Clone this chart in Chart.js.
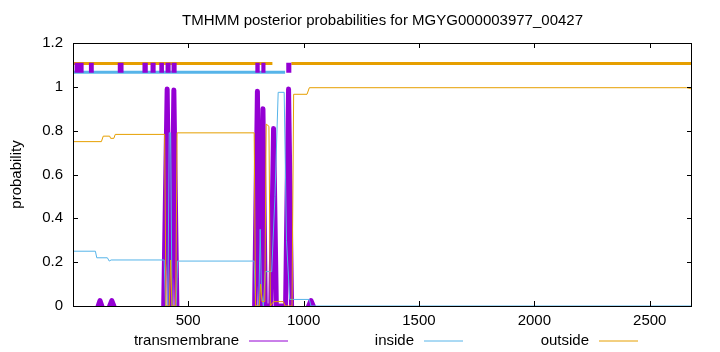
<!DOCTYPE html>
<html>
<head>
<meta charset="utf-8">
<script src="https://cdn.jsdelivr.net/npm/chart.js@4"></script>
<style>
  body { margin: 0; background: #fff; }
</style>
</head>
<body>
<canvas id="tmhmm" width="720" height="352"></canvas>
<script>
// ===============================
// Data
// ===============================
const chartTitle = "TMHMM posterior probabilities for MGYG000003977_00427";
const seqStart = 1;
const seqEnd = 2683;
const xTickValues = [500, 1000, 1500, 2000, 2500];
const yTickValues = [0, 0.2, 0.4, 0.6, 0.8, 1, 1.2];
const seriesNames = ["transmembrane", "inside", "outside"];

// transmembrane posterior (null = gap in the line)
const tmPos  = [110, 118, 126, 126, 160, 169, 178, 178, 394, 409, 421, 426, 438, 451, 451, 788, 800, 812, 815, 824, 834, 858, 870, 882, 922, 935, 948, 948, 1022, 1032, 1042];
const tmProb = [0, 0.025, 0, null, 0, 0.025, 0, null, 0, 0.99, 0, 0, 0.985, 0, null, 0, 0.98, 0, 0, 0.9, 0, 0, 0.81, 0, 0, 0.99, 0, null, 0, 0.025, 0];

// inside posterior
const insidePos  = [1, 98, 104, 150, 158, 166, 396, 402, 412, 418, 424, 430, 448, 454, 786, 792, 806, 812, 818, 826, 834, 862, 876, 890, 916, 926, 940, 1025, 1032, 2683];
const insideProb = [0.25, 0.25, 0.22, 0.22, 0.205, 0.21, 0.21, 0, 0, 0.79, 0.79, 0, 0, 0.205, 0.205, 0, 0, 0.35, 0.05, 0, 0.157, 0.157, 0.5, 0.975, 0.975, 0.3, 0.03, 0.03, 0, 0];

// outside posterior
const outsidePos  = [1, 124, 132, 160, 164, 178, 184, 398, 404, 418, 424, 430, 446, 452, 786, 792, 808, 814, 820, 832, 838, 850, 856, 870, 912, 920, 950, 957, 1015, 1025, 2660, 2683];
const outsideProb = [0.75, 0.75, 0.775, 0.775, 0.765, 0.765, 0.783, 0.783, 0, 0, 0.21, 0, 0, 0.79, 0.79, 0, 0, 0.1, 0.02, 0.02, 0.83, 0.82, 0, 0.02, 0.02, 0, 0, 0.966, 0.966, 0.996, 0.996, 0.99];

// predicted topology track above the curves
const outsideTrack = [[1, 865], [947, 2683]];
const insideTrack = [[1, 920]];
const tmTrack = [[8, 47], [70, 91], [195, 220], [302, 325], [337, 359], [375, 395], [402, 424], [428, 450], [791, 810], [817, 835], [925, 947]];
const trackLevel = { outside: 1.107, tm: 1.087, inside: 1.066 };

// ===============================
// Helpers
// ===============================
const COL_TM = "#9400d3";
const COL_IN = "#56b4e9";
const COL_OUT = "#e69f00";
const FONT = '"Liberation Sans", Arial, sans-serif';
const FONT_SIZE = 15;

function points(xs, ys) {
  return xs.map((x, i) => ({ x: x, y: ys[i] }));
}

function trackPoints(ranges, level) {
  const out = [];
  ranges.forEach(r => {
    out.push({ x: r[0], y: level }, { x: r[1], y: level }, { x: r[1], y: null });
  });
  return out;
}

// frame, inward ticks, title, y label and gnuplot-style key
const gnuplotFrame = {
  id: "gnuplotFrame",
  afterDraw(chart) {
    const { ctx, chartArea: a, scales } = chart;
    ctx.save();
    ctx.strokeStyle = "#000";
    ctx.lineWidth = 1;
    ctx.strokeRect(a.left + 0.5, a.top + 0.5, a.right - a.left - 1, a.bottom - a.top);

    const tl = 5;
    ctx.beginPath();
    xTickValues.forEach(v => {
      const px = Math.round(scales.x.getPixelForValue(v)) + 0.5;
      ctx.moveTo(px, a.bottom); ctx.lineTo(px, a.bottom - tl);
      ctx.moveTo(px, a.top); ctx.lineTo(px, a.top + tl);
    });
    yTickValues.forEach(v => {
      const py = Math.round(scales.y.getPixelForValue(v)) + 0.5;
      ctx.moveTo(a.left, py); ctx.lineTo(a.left + tl, py);
      ctx.moveTo(a.right, py); ctx.lineTo(a.right - tl, py);
    });
    ctx.stroke();

    ctx.fillStyle = "#000";
    ctx.font = FONT_SIZE + "px " + FONT;
    ctx.textAlign = "center";
    ctx.textBaseline = "middle";
    ctx.fillText(chartTitle, (a.left + a.right) / 2, 21);

    ctx.save();
    ctx.translate(17, (a.top + a.bottom) / 2);
    ctx.rotate(-Math.PI / 2);
    ctx.fillText("probability", 0, 0);
    ctx.restore();

    // key: text right-aligned, sample line after it
    const keyY = 341;
    const keyEnds = [239, 414, 589];
    const keyCols = [COL_TM, COL_IN, COL_OUT];
    ctx.textAlign = "right";
    seriesNames.forEach((name, i) => {
      ctx.fillStyle = "#000";
      ctx.fillText(name, keyEnds[i], keyY);
      ctx.strokeStyle = keyCols[i];
      ctx.lineWidth = 1;
      ctx.beginPath();
      ctx.moveTo(keyEnds[i] + 10, keyY);
      ctx.lineTo(keyEnds[i] + 49, keyY);
      ctx.stroke();
    });
    ctx.restore();
  }
};

// ===============================
// Chart
// ===============================
new Chart(document.getElementById("tmhmm"), {
  type: "line",
  data: {
    datasets: [
      {
        label: seriesNames[0],
        data: points(tmPos, tmProb),
        borderColor: COL_TM,
        borderWidth: 5,
        borderJoinStyle: "round",
        borderCapStyle: "round",
        order: 6
      },
      {
        label: seriesNames[1],
        data: points(insidePos, insideProb),
        borderColor: COL_IN,
        borderWidth: 1,
        order: 5
      },
      {
        label: seriesNames[2],
        data: points(outsidePos, outsideProb),
        borderColor: COL_OUT,
        borderWidth: 1,
        order: 4
      },
      {
        label: "outside track",
        data: trackPoints(outsideTrack, trackLevel.outside),
        borderColor: COL_OUT,
        borderWidth: 3,
        order: 3
      },
      {
        label: "inside track",
        data: trackPoints(insideTrack, trackLevel.inside),
        borderColor: COL_IN,
        borderWidth: 3,
        order: 2
      },
      {
        label: "tm track",
        data: trackPoints(tmTrack, trackLevel.tm),
        borderColor: COL_TM,
        borderWidth: 10,
        borderCapStyle: "butt",
        order: 1
      }
    ]
  },
  options: {
    responsive: false,
    animation: false,
    spanGaps: false,
    elements: { point: { radius: 0 }, line: { tension: 0, fill: false } },
    layout: { padding: { top: 43, right: 28, left: 0, bottom: 0 } },
    plugins: {
      legend: { display: false },
      title: { display: false },
      tooltip: { enabled: false }
    },
    scales: {
      x: {
        type: "linear",
        min: seqStart,
        max: seqEnd,
        afterBuildTicks: s => { s.ticks = xTickValues.map(v => ({ value: v })); },
        afterFit: s => { s.height = 46; },
        grid: { display: false, drawTicks: false },
        border: { display: false },
        ticks: { autoSkip: false, maxRotation: 0, padding: 6, color: "#000", font: { family: FONT, size: FONT_SIZE }, callback: v => String(v) }
      },
      y: {
        min: 0,
        max: 1.2,
        afterBuildTicks: s => { s.ticks = yTickValues.map(v => ({ value: v })); },
        afterFit: s => { s.width = 73; },
        grid: { display: false, drawTicks: false },
        border: { display: false },
        ticks: { padding: 10, color: "#000", font: { family: FONT, size: FONT_SIZE }, callback: v => String(v) }
      }
    }
  },
  plugins: [gnuplotFrame]
});
</script>
</body>
</html>
